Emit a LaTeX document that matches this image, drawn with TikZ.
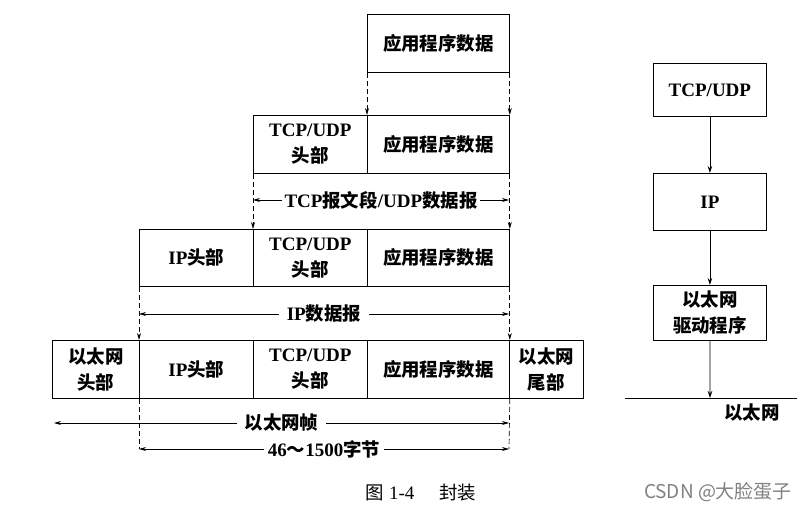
\documentclass[tikz,border=0pt]{standalone}
\usepackage{fontspec}
\setmainfont{Liberation Serif}
\newfontfamily\cjk[Scale=0.97]{Noto Sans CJK SC}
\newfontfamily\cjkwm{Noto Sans CJK SC}
\newcommand\zh[1]{{\cjk #1}}
\usetikzlibrary{arrows.meta}
\begin{document}
\begin{tikzpicture}[x=1pt,y=-1pt,
  every node/.style={font=\fontsize{19}{26}\selectfont\bfseries, align=center},
  cell/.style={draw, line width=0.8pt, anchor=north west, inner sep=0pt, minimum height=#1},
  cell/.default=58pt,
  dasharrow/.style={dashed, dash pattern=on 5pt off 3pt, line width=0.7pt, -{Stealth[length=7pt,width=4pt]}},
  dashline/.style={dashed, dash pattern=on 5pt off 3pt, line width=0.7pt},
  dim/.style={line width=0.7pt, {Stealth[length=7pt,width=4pt]}-{Stealth[length=7pt,width=4pt]}},
  lab/.style={fill=white, inner xsep=8pt, inner ysep=1pt},
  solidarrow/.style={line width=0.8pt, -{Stealth[length=7pt,width=4.5pt]}}
]
\useasboundingbox (0,0) rectangle (809,513);
% row 1
\node[cell, minimum width=142pt] (a1) at (367,14) {\zh{应用程序数据}};
% row 2
\node[cell, minimum width=114pt] (b1) at (253,115) {TCP/UDP\\\zh{头部}};
\node[cell, minimum width=142pt] (b2) at (367,115) {\zh{应用程序数据}};
% row 3
\node[cell=57pt, minimum width=114pt] (c1) at (139,229) {IP\zh{头部}};
\node[cell=57pt, minimum width=114pt] (c2) at (253,229) {TCP/UDP\\\zh{头部}};
\node[cell=57pt, minimum width=142pt] (c3) at (367,229) {\zh{应用程序数据}};
% row 4
\node[cell, minimum width=87pt] (d1) at (52,340) {\zh{以太网}\\\zh{头部}};
\node[cell, minimum width=114pt] (d2) at (139,340) {IP\zh{头部}};
\node[cell, minimum width=114pt] (d3) at (253,340) {TCP/UDP\\\zh{头部}};
\node[cell, minimum width=142pt] (d4) at (367,340) {\zh{应用程序数据}};
\node[cell, minimum width=74pt] (d5) at (509,340) {\zh{以太网}\\\zh{尾部}};
% dashed arrows row1 -> row2
\draw[dasharrow] (a1.south west) -- (b2.north west);
\draw[dasharrow] (a1.south east) -- (b2.north east);
% row2 -> row3
\draw[dasharrow] (b1.south west) -- (c2.north west);
\draw[dasharrow] (b2.south east) -- (c3.north east);
\coordinate (t1) at (253,200); \coordinate (t2) at (509,200);
\draw[dim] (t1) -- node[lab, inner xsep=3pt] {TCP\zh{报文段}/UDP\zh{数据报}} (t2);
% row3 -> row4
\draw[dasharrow] (c1.south west) -- (d2.north west);
\draw[dasharrow] (c3.south east) -- (d4.north east);
\coordinate (i1) at (139,314); \coordinate (i2) at (509,314);
\draw[dim] (i1) -- node[lab] {IP\zh{数据报}} (i2);
% below row 4
\coordinate (e0) at (54,423); \coordinate (e2) at (509,423);
\coordinate (f1) at (139,449); \coordinate (f2) at (509,449);
\draw[dashline] (d2.south west) -- (f1);
\draw[dashline] (d4.south east) -- (f2);
\draw[dim] (e0) -- node[lab] {\zh{以太网帧}} (e2);
\draw[dim] (f1) -- node[lab, inner xsep=4pt] {46\zh{～}1500\zh{字节}} (f2);
% caption
\node[font=\fontsize{19}{22}\selectfont] (cap) at (421,493) {\zh{图} 1-4\hspace{1.3em}\zh{封装}};
% right stack
\node[cell=53pt, minimum width=113pt] (p1) at (653,63) {TCP/UDP};
\node[cell=57pt, minimum width=113pt] (p2) at (653,173) {IP};
\node[cell=55pt, minimum width=113pt] (p3) at (653,285) {\zh{以太网}\\\zh{驱动程序}};
\coordinate (wl) at (625,398); \coordinate (wr) at (797,398);
\coordinate (wm) at (710,398);
\draw[line width=0.8pt] (wl) -- (wr);
\draw[solidarrow] (p1) -- (p2);
\draw[solidarrow] (p2) -- (p3);
\draw[solidarrow] (p3) -- (wm);
\node (eth) at (752,413) {\zh{以太网}};
\node[text=black!50, font=\cjkwm\fontsize{19}{21}\selectfont] (wm2) at (718,492) {CSDN @大脸蛋子};
\end{tikzpicture}
\end{document}
